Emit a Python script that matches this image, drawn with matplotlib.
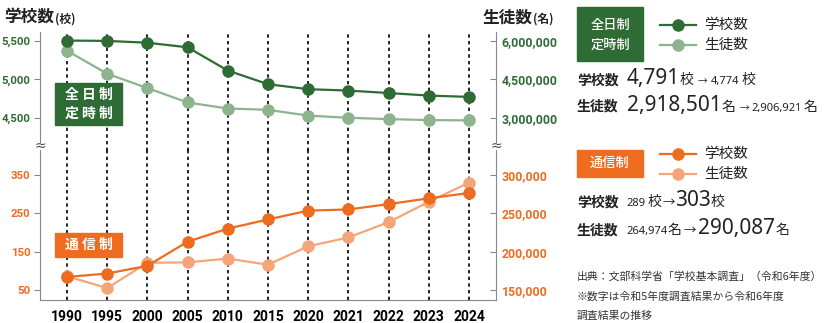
import matplotlib
matplotlib.use('Agg')
import matplotlib.pyplot as plt
import matplotlib.patches as mpatches

plt.rcParams['font.family'] = ['Noto Sans CJK JP', 'DejaVu Sans']

# data
years = ['1990', '1995', '2000', '2005', '2010', '2015', '2020', '2021', '2022', '2023', '2024']
zen_schools = [5506, 5501, 5478, 5418, 5116, 4939, 4874, 4856, 4824, 4791, 4774]
zen_students = [5623336, 4724945, 4165434, 3605242, 3368693, 3319114, 3092064, 3008182, 2956900, 2918501, 2906921]
tsu_schools = [84, 93, 113, 176, 210, 234, 257, 260, 274, 289, 303]
tsu_students = [168000, 152500, 185500, 186000, 191000, 183000, 207000, 218500, 238500, 264974, 290087]

zen_ticks_l = [4500, 5000, 5500]
zen_ticks_r = [3000000, 4500000, 6000000]
tsu_ticks_l = [50, 150, 250, 350]
tsu_ticks_r = [150000, 200000, 250000, 300000]

GREEN = '#2f6b35'
LGREEN = '#8db38f'
ORANGE = '#ee6c1f'
LORANGE = '#f4a67a'
GRAY = '#888888'
NUMFONT = ['Noto Sans', 'Noto Sans CJK JP']

W, H = 835, 323
fig = plt.figure(figsize=(W / 100, H / 100), dpi=100)


def fx(x):
    return x / W


def fy(y):
    return 1 - y / H


ax_top = fig.add_axes([fx(40), fy(142), fx(456), 110 / H])
ax_bot = fig.add_axes([fx(40), fy(300), fx(456), 150 / H])
ax_top2 = ax_top.twinx()
ax_bot2 = ax_bot.twinx()

xs = list(range(len(years)))

for ax in (ax_top, ax_bot):
    ax.set_zorder(3)
    ax.patch.set_visible(False)
    ax.set_xlim(-0.67, 10.67)

ax_top.plot(xs, zen_schools, color=GREEN, lw=1.6, marker='o', ms=8, zorder=3)
ax_top2.plot(xs, zen_students, color=LGREEN, lw=1.6, marker='o', ms=8, zorder=3)
ax_bot.plot(xs, tsu_schools, color=ORANGE, lw=1.6, marker='o', ms=8, zorder=3)
ax_bot2.plot(xs, tsu_students, color=LORANGE, lw=1.6, marker='o', ms=8, zorder=3)

ax_top.set_ylim(4188, 5617)
ax_top2.set_ylim(2065000, 6350000)
ax_bot.set_ylim(24, 415)
ax_bot2.set_ylim(137000, 332500)

# dotted guides
for x in xs:
    ax_top2.axvline(x, ymin=-0.08, ymax=1, color='black', lw=1.2,
                    ls=(0, (2, 2)), zorder=1, clip_on=False)
    ax_bot2.axvline(x, color='black', lw=1.2, ls=(0, (2, 2)), zorder=1)


def style(ax, ax2, tl, tr, col, bottom):
    for a in (ax, ax2):
        for s in a.spines.values():
            s.set_visible(False)
    ax.spines['left'].set_visible(True)
    ax.spines['left'].set_color(GRAY)
    ax2.spines['right'].set_visible(True)
    ax2.spines['right'].set_color(GRAY)
    if bottom:
        ax.spines['bottom'].set_visible(True)
        ax.spines['bottom'].set_color(GRAY)
    ax.set_yticks(tl)
    ax.set_yticklabels(['{:,}'.format(v) for v in tl])
    ax2.set_yticks(tr)
    ax2.set_yticklabels(['{:,}'.format(v) for v in tr])
    ax.tick_params(axis='y', direction='out', length=4, color=GRAY, pad=3,
                   labelcolor=col, labelsize=8.2)
    ax2.tick_params(axis='y', direction='in', length=4, color=GRAY, pad=4,
                    labelcolor=col, labelsize=8.8)
    for lab in ax.get_yticklabels() + ax2.get_yticklabels():
        lab.set_fontfamily(['Roboto', 'DejaVu Sans'])
        lab.set_fontweight('bold')


style(ax_top, ax_top2, zen_ticks_l, zen_ticks_r, GREEN, False)
style(ax_bot, ax_bot2, tsu_ticks_l, tsu_ticks_r, ORANGE, True)

ax_top.set_xticks([])
ax_bot.set_xticks(xs)
ax_bot.set_xticklabels(years)
ax_bot.tick_params(axis='x', length=0, pad=7, labelsize=10)
for lab in ax_bot.get_xticklabels():
    lab.set_fontfamily(['Roboto', 'DejaVu Sans'])
    lab.set_fontweight('bold')

# break marks
for x in (40, 496):
    fig.text(fx(x), fy(146), '≈', ha='center', va='center', fontsize=10,
             color='#555555', family=['DejaVu Sans'])

renderer = fig.canvas.get_renderer()


def run(x, y, pieces, color='#222222'):
    # pieces: (text, size, weight, gap_after_px)
    for txt, size, weight, gap in pieces:
        fam = NUMFONT if any(c.isdigit() for c in txt) else ['Noto Sans CJK JP', 'DejaVu Sans']
        t = fig.text(fx(x), fy(y), txt, fontsize=size, fontweight=weight,
                     color=color, va='baseline', ha='left', family=fam)
        w = t.get_window_extent(renderer).width
        x += w + gap


def box(x0, y0, x1, y1, color):
    fig.add_artist(mpatches.Rectangle((fx(x0), fy(y1)), fx(x1 - x0), (y1 - y0) / H,
                                      transform=fig.transFigure, color=color, zorder=5))


# axis titles
run(4, 23, [('学校数', 12, 'bold', 1), ('(校)', 8.5, 'bold', 0)])
run(482, 23, [('生徒数', 12, 'bold', 1), ('(名)', 8.5, 'bold', 0)])

# in-panel labels
box(55, 83, 122, 125, GREEN)
fig.text(fx(88.5), fy(95), '全 日 制', ha='center', va='center', color='white',
         fontsize=10, fontweight='bold', zorder=6)
fig.text(fx(88.5), fy(114), '定 時 制', ha='center', va='center', color='white',
         fontsize=10, fontweight='bold', zorder=6)
box(55, 233, 122, 257, ORANGE)
fig.text(fx(88.5), fy(245), '通 信 制', ha='center', va='center', color='white',
         fontsize=10, fontweight='bold', zorder=6)

# right-side legend blocks
box(577, 7, 643, 61, GREEN)
fig.text(fx(610), fy(25), '全日制', ha='center', va='center', color='white',
         fontsize=9.5, fontweight='medium', zorder=6)
fig.text(fx(610), fy(45), '定時制', ha='center', va='center', color='white',
         fontsize=9.5, fontweight='medium', zorder=6)
box(577, 150, 643, 177, ORANGE)
fig.text(fx(610), fy(163), '通信制', ha='center', va='center', color='white',
         fontsize=9.5, fontweight='medium', zorder=6)


def legend_line(y, color, label):
    fig.add_artist(plt.Line2D([fx(660), fx(696)], [fy(y), fy(y)], color=color, lw=1.6,
                              transform=fig.transFigure))
    fig.add_artist(plt.Line2D([fx(678)], [fy(y)], color=color, marker='o', ms=8,
                              transform=fig.transFigure))
    fig.text(fx(704), fy(y), label, va='center', ha='left', fontsize=10.5, color='#222222')


legend_line(25, GREEN, '学校数')
legend_line(45, LGREEN, '生徒数')
legend_line(154, ORANGE, '学校数')
legend_line(174, LORANGE, '生徒数')

run(577, 84, [('学校数', 10, 'bold', 8), ('4,791', 15, 'medium', 0), ('校', 10, 'normal', 4),
              ('→', 7, 'normal', 3), ('4,774', 8, 'normal', 3), ('校', 10, 'normal', 0)])
run(577, 111, [('生徒数', 10, 'bold', 8), ('2,918,501', 15, 'medium', 0), ('名', 10, 'normal', 4),
               ('→', 7, 'normal', 3), ('2,906,921', 8, 'normal', 1), ('名', 10, 'normal', 0)])
run(577, 206, [('学校数', 10, 'bold', 8), ('289', 8, 'normal', 2), ('校', 10, 'normal', 1),
               ('→', 9, 'normal', 0), ('303', 15, 'medium', 0), ('校', 10, 'normal', 0)])
run(577, 234, [('生徒数', 10, 'bold', 8), ('264,974', 8, 'normal', 0), ('名', 10, 'normal', 2),
               ('→', 9, 'normal', 2), ('290,087', 15, 'medium', 0), ('名', 10, 'normal', 0)])

notes = ['出典：文部科学省「学校基本調査」（令和6年度）',
         '※数字は令和5年度調査結果から令和6年度',
         '調査結果の推移']
for i, line in enumerate(notes):
    fig.text(fx(577), fy(277 + i * 19.5), line, va='center', ha='left', fontsize=7.8,
             color='#333333')

fig.savefig('out.png', dpi=100)
